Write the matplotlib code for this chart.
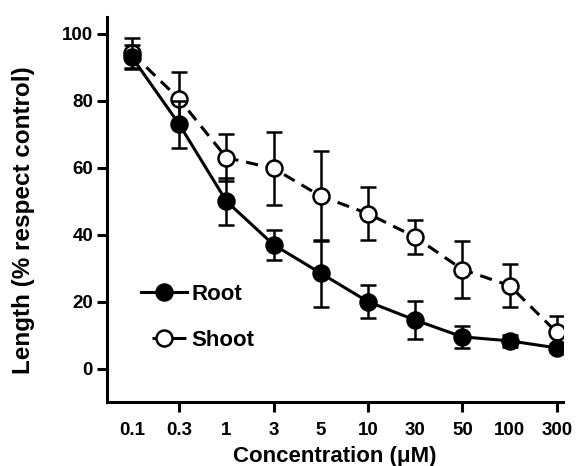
import matplotlib
matplotlib.use("Agg")
import matplotlib.pyplot as plt
from matplotlib.lines import Line2D
import numpy as np

concentrations = ["0.1", "0.3", "1", "3", "5", "10", "30", "50", "100", "300"]
root_mean = [93, 73, 50, 37, 28.5, 20, 14.5, 9.5, 8.3, 6.2]
root_err = [3.5, 7, 7, 4.5, 10, 5, 5.7, 3.3, 1.8, 1.2]
shoot_mean = [94.2, 80.5, 63, 59.8, 51.5, 46.3, 39.3, 29.6, 24.8, 10.8]
shoot_err = [4.5, 8, 7, 11, 13.5, 8, 5, 8.6, 6.5, 5]

plt.rcParams['font.family'] = ['Liberation Sans', 'DejaVu Sans']
plt.rcParams['font.weight'] = 'bold'

fig = plt.figure(figsize=(5.78, 4.66), dpi=100)
ax = fig.add_axes([0.185, 0.137, 0.789, 0.8265])

x = np.arange(len(concentrations))
common = dict(color='black', linewidth=2.2, marker='o', markersize=11.5,
              markeredgecolor='black', markeredgewidth=1.8, capsize=5.5,
              capthick=1.8, elinewidth=1.8)
ax.errorbar(x, shoot_mean, yerr=shoot_err, linestyle=(0, (4, 2.6)),
            markerfacecolor='white', zorder=2, **common)
ax.errorbar(x, root_mean, yerr=root_err, linestyle='-',
            markerfacecolor='black', zorder=3, **common)

ax.set_xlim(-0.53, 9.13)
ax.set_ylim(-10, 105)

for s in ['top', 'right']:
    ax.spines[s].set_visible(False)
for s in ['left', 'bottom']:
    ax.spines[s].set_linewidth(2.2)

ax.set_yticks([0, 20, 40, 60, 80, 100])
ax.set_xticks(x)
ax.set_xticklabels(concentrations)
for i, t in enumerate(ax.xaxis.get_major_ticks()):
    if i % 2 == 0:
        t.tick1line.set_visible(False)
ax.tick_params(axis='x', direction='out', length=7.5, width=2.2, pad=7, labelsize=13.5)
ax.tick_params(axis='y', direction='out', length=7, width=2.2, pad=3, labelsize=13.5)
for lab in ax.get_xticklabels() + ax.get_yticklabels():
    lab.set_fontweight('bold')

ax.set_xlabel('Concentration (\u03bcM)', fontsize=16, fontweight='bold')
ax.set_ylabel('Length (% respect control)', fontsize=17.5, fontweight='bold')
ax.xaxis.set_label_coords(0.5, -0.113)
ax.yaxis.set_label_coords(-0.158, 0.472)

h_root = Line2D([], [], color='black', linewidth=2.2, marker='o', markersize=11.5,
                markerfacecolor='black', markeredgecolor='black', markeredgewidth=1.8)
h_shoot = Line2D([], [], color='black', linewidth=2.2, marker='o', markersize=11.5,
                 markerfacecolor='white', markeredgecolor='black', markeredgewidth=1.8,
                 linestyle=(11.1, (11.1, 3.6)))
leg = ax.legend([h_root, h_shoot], ['Root', 'Shoot'], loc='center left',
                bbox_to_anchor=(0.031, 0.22), frameon=False, fontsize=16,
                handlelength=2.05, handletextpad=0.23, labelspacing=1.1)
for t in leg.get_texts():
    t.set_fontweight('bold')

fig.savefig('out.png', dpi=100)
